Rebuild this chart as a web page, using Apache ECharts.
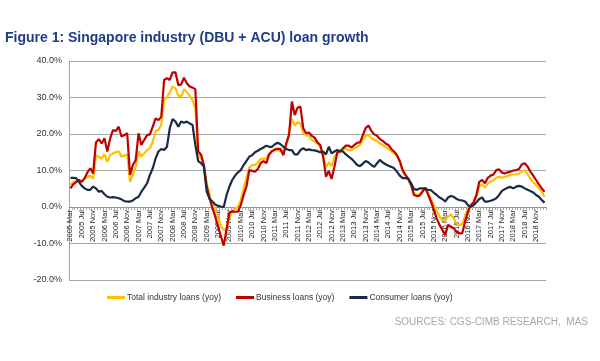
<!DOCTYPE html>
<html><head><meta charset="utf-8">
<script src="https://cdn.jsdelivr.net/npm/echarts@6/dist/echarts.min.js"></script>
<style>html,body{margin:0;padding:0;background:#fff}#c{width:600px;height:361px}</style>
</head><body><div id="c"></div>
<script>
// Monthly categories: 2005 Mar .. 2019 Feb
const startYear = 2005;
const startMonthIndex = 2; // March
const monthCount = 168;
const monthNames = ['Jan','Feb','Mar','Apr','May','Jun','Jul','Aug','Sep','Oct','Nov','Dec'];
const categories = [];
for (let k = 0; k < monthCount; k++) {
  const m = startMonthIndex + k;
  categories.push((startYear + Math.floor(m / 12)) + ' ' + monthNames[m % 12]);
}

const seriesNames = ['Total industry loans (yoy)', 'Business loans (yoy)', 'Consumer loans (yoy)'];

const totalLoans = [
  6.0,6.8,7.1,7.3,7.1,7.7,8.3,8.6,7.7,14.1,
  13.8,13.3,14.4,12.4,14.2,14.7,15.0,15.3,13.8,14.1,
  14.4,6.9,8.8,11.1,15.3,13.8,14.7,15.6,16.1,17.9,
  20.8,21.1,22.5,29.3,30.0,31.4,33.0,32.5,30.5,30.2,
  32.3,31.4,30.5,29.3,27.0,14.4,13.5,11.3,6.5,3.3,
  1.0,-1.1,-2.9,-5.1,-6.3,-6.0,-3.0,-1.1,-0.4,0.1,
  1.9,5.1,7.9,10.8,11.5,11.5,12.2,13.2,13.2,13.3,
  14.7,15.2,15.4,15.6,15.3,15.2,16.5,20.6,24.1,22.3,
  23.2,22.9,20.2,19.7,19.5,18.4,17.9,17.4,16.5,14.2,
  10.8,12.2,11.1,13.8,14.7,15.0,15.6,16.1,15.6,15.6,
  16.1,16.5,17.0,18.4,19.5,19.7,18.8,18.4,18.1,17.4,
  17.0,16.5,15.9,15.2,14.7,14.1,12.4,9.9,8.6,7.7,
  5.8,3.7,3.3,3.5,4.2,5.1,3.7,2.2,0.5,-1.1,
  -2.6,-3.7,-3.6,-2.6,-2.0,-3.1,-4.5,-4.9,-4.7,-2.4,
  -0.5,0.5,1.0,2.8,5.6,6.2,5.3,6.5,6.9,7.3,
  8.0,8.3,8.0,8.3,8.5,8.8,8.9,8.9,9.2,9.7,
  10.1,8.9,7.7,6.8,6.0,5.1,4.2,2.8
];

const businessLoans = [
  5.1,6.2,6.8,7.4,6.9,7.9,9.5,10.6,9.2,17.7,
  18.6,17.4,18.8,15.2,18.8,21.1,20.8,22.0,19.3,19.7,
  20.2,8.8,11.5,12.9,20.2,17.0,18.4,19.7,19.9,22.0,
  24.3,23.8,24.7,34.8,35.3,34.8,36.9,36.9,33.4,33.6,
  35.4,33.9,33.0,32.7,32.3,15.2,14.4,11.5,5.6,2.4,
  -0.2,-2.6,-5.4,-8.0,-10.6,-6.0,-1.5,-1.2,-1.3,-1.3,
  0.5,3.3,5.6,10.1,9.9,9.7,10.4,12.0,12.6,12.0,
  14.4,15.3,15.8,15.9,15.9,14.2,17.4,19.7,28.9,25.2,
  27.2,27.5,21.6,20.2,20.4,19.5,19.0,17.7,17.0,13.8,
  8.3,9.9,7.7,11.1,15.0,15.3,16.1,16.8,16.8,16.3,
  17.0,17.6,17.7,19.7,21.7,22.3,20.8,19.9,19.5,18.6,
  18.1,17.4,17.0,15.9,15.2,14.2,12.6,10.1,8.8,7.7,
  6.0,3.3,3.0,3.1,4.2,5.3,3.3,1.5,-0.8,-3.1,
  -4.9,-6.3,-7.7,-4.9,-5.4,-5.8,-6.8,-7.2,-7.2,-4.0,
  -1.3,0.5,1.3,3.3,6.9,7.4,6.5,8.0,8.6,8.9,
  10.1,10.3,9.4,9.2,9.5,9.7,10.0,10.1,10.4,11.7,
  12.0,11.1,9.7,8.6,7.4,6.2,5.1,4.2
];

const consumerLoans = [
  8.0,8.0,7.9,6.9,5.8,5.1,4.7,4.7,5.6,5.1,
  4.2,4.4,3.5,2.8,2.6,2.7,2.6,2.4,2.1,1.6,
  1.5,1.5,1.8,2.4,2.8,4.2,5.3,6.5,8.8,10.6,
  13.3,15.2,15.9,15.6,16.5,21.6,24.1,23.4,22.0,23.4,
  23.1,23.4,22.9,22.5,17.0,12.6,12.0,11.1,4.2,2.2,
  1.5,0.7,0.3,0.1,0.0,3.3,5.6,7.4,8.6,9.5,
  10.1,11.5,12.6,13.8,14.2,15.0,15.4,15.9,16.3,16.8,
  16.5,16.5,17.2,17.6,17.2,16.5,15.9,15.6,15.6,14.4,
  14.4,15.6,16.1,15.6,15.8,15.6,15.5,15.3,15.0,15.2,
  14.4,16.5,14.7,15.2,15.6,15.3,15.2,14.4,13.8,13.2,
  12.4,11.5,11.2,11.9,12.6,12.2,11.5,11.0,12.0,12.9,
  12.2,11.7,11.3,11.0,10.6,9.7,8.6,7.9,7.9,7.7,
  6.5,4.9,4.7,5.1,5.1,5.0,4.7,4.6,3.9,3.3,
  2.6,2.2,1.5,2.6,3.0,2.8,2.2,1.9,1.8,1.5,
  0.5,0.1,0.5,1.3,2.2,2.6,1.5,1.5,1.7,2.0,
  2.4,3.3,4.4,4.9,5.3,5.5,5.1,5.6,5.8,5.6,
  5.1,4.7,4.4,4.0,3.3,2.8,1.9,1.2
];

const yMin = -20, yMax = 40, yStep = 10;
const colors = ['#FFC000', '#C00000', '#1B2A44'];
const FONT = 'Liberation Sans, Arial, sans-serif';

const gridTop = 61, gridBottom = 81, chartH = 361;
const gridH = chartH - gridTop - gridBottom;
// place the category axis at the zero line (move up from the grid bottom)
const zeroOffset = -Math.round(gridH * (0 - yMin) / (yMax - yMin));

const chart = echarts.init(document.getElementById('c'), null, {renderer: 'canvas'});
const dataSets = [totalLoans, businessLoans, consumerLoans];
chart.setOption({
  animation: false,
  backgroundColor: '#ffffff',
  title: {
    text: 'Figure 1: Singapore industry (DBU + ACU) loan growth',
    left: 5, top: 31, padding: 0,
    textStyle: {fontFamily: FONT, fontSize: 14, fontWeight: 'bold', color: '#1f3c88'}
  },
  grid: {left: 69, right: 54, top: gridTop, bottom: gridBottom, containLabel: false},
  legend: {
    data: seriesNames,
    left: 107, top: 293, padding: 0,
    itemGap: 15, itemWidth: 18, itemHeight: 3, icon: 'rect',
    textStyle: {fontFamily: FONT, fontSize: 8.5, color: '#333', padding: [0,0,0,-3]}
  },
  graphic: [{
    type: 'text', right: 12, top: 317,
    style: {text: 'SOURCES: CGS-CIMB RESEARCH,  MAS', fill: '#a6a6a6', font: '10px ' + FONT}
  }],
  xAxis: {
    type: 'category', data: categories, boundaryGap: true,
    position: 'bottom', offset: zeroOffset,
    axisLine: {onZero: false, lineStyle: {color: '#8c8c8c', width: 1}},
    axisTick: {show: true, interval: 0, length: 3, lineStyle: {color: '#a6a6a6'}},
    axisLabel: {interval: 3, rotate: 90, fontFamily: FONT, fontSize: 7.5, color: '#222', margin: 3},
    splitLine: {show: false}
  },
  yAxis: {
    type: 'value', min: yMin, max: yMax, interval: yStep,
    axisLine: {show: true, lineStyle: {color: '#a6a6a6'}},
    axisTick: {show: false},
    axisLabel: {formatter: v => v.toFixed(1) + '%', fontFamily: FONT, fontSize: 9, color: '#333', margin: 7},
    splitLine: {show: true, lineStyle: {color: '#a6a6a6', width: 1}}
  },
  series: seriesNames.map((n, k) => ({
    name: n, type: 'line', data: dataSets[k], symbol: 'none', showSymbol: false,
    color: colors[k], lineStyle: {width: 2.2, color: colors[k]}, emphasis: {disabled: true}, z: 2 + k
  }))
});
</script></body></html>
